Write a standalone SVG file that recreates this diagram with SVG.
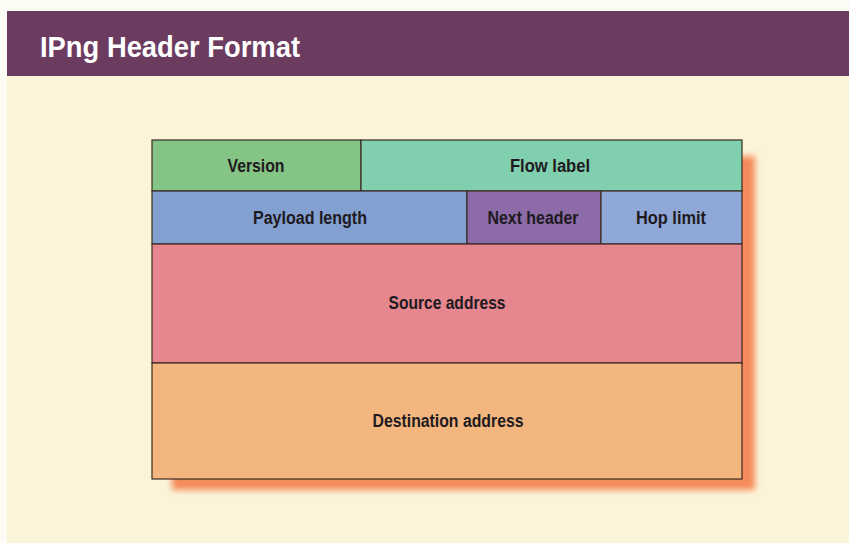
<svg xmlns="http://www.w3.org/2000/svg" width="849" height="543" viewBox="0 0 849 543">
<defs>
<filter id="blur" x="-10%" y="-10%" width="120%" height="120%"><feGaussianBlur stdDeviation="3"/></filter>
<style>
.cell{stroke:#3a2a22;stroke-width:1.2}
.lbl{font-family:"Liberation Sans",Arial,sans-serif;font-weight:bold;font-size:17.5px;fill:#1e1a1e;text-anchor:middle}
.title{font-family:"Liberation Sans",Arial,sans-serif;font-weight:bold;font-size:29px;fill:#ffffff}
</style>
</defs>
<rect width="849" height="543" fill="#fdfcf4"/>
<rect x="7" y="11" width="842" height="532" fill="#fbf4d9"/>
<g id="title-bar">
<rect x="7" y="11" width="842" height="65" fill="#6b3b60"/>
<text class="title" x="40" y="57" textLength="260" lengthAdjust="spacingAndGlyphs">IPng Header Format</text>
</g>
<rect x="172" y="156" width="583" height="334" fill="#f58a5a" filter="url(#blur)"/>
<g id="version"><rect class="cell" x="152" y="140" width="209" height="51" fill="#84c484"/><text class="lbl" x="256" y="172" textLength="57" lengthAdjust="spacingAndGlyphs">Version</text></g>
<g id="flow-label"><rect class="cell" x="361" y="140" width="381" height="51" fill="#80cfae"/><text class="lbl" x="550" y="172" textLength="80" lengthAdjust="spacingAndGlyphs">Flow label</text></g>
<g id="payload-length"><rect class="cell" x="152" y="191" width="315" height="53" fill="#82a0d0"/><text class="lbl" x="310" y="224" textLength="114" lengthAdjust="spacingAndGlyphs">Payload length</text></g>
<g id="next-header"><rect class="cell" x="467" y="191" width="134" height="53" fill="#8c6ba8"/><text class="lbl" x="533" y="224" textLength="91" lengthAdjust="spacingAndGlyphs">Next header</text></g>
<g id="hop-limit"><rect class="cell" x="601" y="191" width="141" height="53" fill="#8fa8d8"/><text class="lbl" x="671" y="224" textLength="70" lengthAdjust="spacingAndGlyphs">Hop limit</text></g>
<g id="source-address"><rect class="cell" x="152" y="244" width="590" height="119" fill="#e6868f"/><text class="lbl" x="447" y="309" textLength="117" lengthAdjust="spacingAndGlyphs">Source address</text></g>
<g id="destination-address"><rect class="cell" x="152" y="363" width="590" height="116" fill="#f3b67e"/><text class="lbl" x="448" y="427" textLength="151" lengthAdjust="spacingAndGlyphs">Destination address</text></g>
<g id="connectors"/>
</svg>
